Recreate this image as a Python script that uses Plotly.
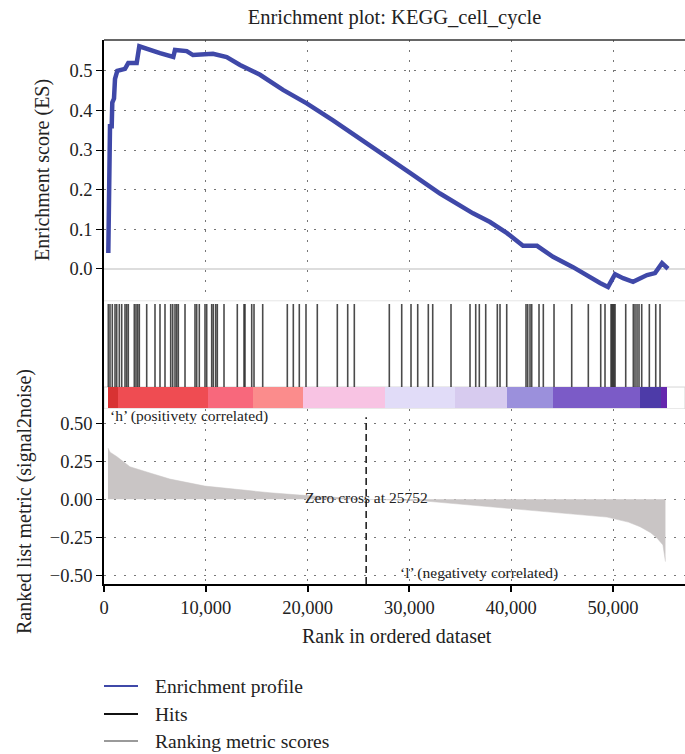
import plotly.graph_objects as go

# ---------------- data ----------------
title_text = "Enrichment plot: KEGG_cell_cycle"

es_rank = [422, 462, 521, 589, 756, 815, 982, 1081, 1306, 2063, 2387, 3212, 3468,
           4194, 5501, 6807, 6974, 8124, 8742, 10707, 12053, 13359, 15324, 17583,
           19911, 22496, 24165, 26130, 30060, 33005, 36247, 37917, 39587, 41158,
           42534, 44105, 46070, 48722, 49508, 50199, 50985, 51967, 53340, 54126,
           54814, 55403]
es_value = [0.04, 0.14, 0.24, 0.36, 0.36, 0.42, 0.43, 0.48, 0.50, 0.505, 0.52, 0.52,
            0.562, 0.555, 0.545, 0.535, 0.553, 0.55, 0.54, 0.543, 0.535, 0.515, 0.49,
            0.452, 0.418, 0.375, 0.345, 0.312, 0.242, 0.19, 0.14, 0.118, 0.09, 0.058,
            0.058, 0.03, 0.004, -0.036, -0.046, -0.014, -0.024, -0.033, -0.016,
            -0.011, 0.014, 0.0]

hit_ranks = [422, 589, 815, 1081, 1248, 1503, 1739, 2063, 2230, 2387, 2976, 3143, 3310,
             3468, 4194, 5010, 5501, 5992, 6552, 6748, 6974, 7141, 7299, 7957, 8939,
             9106, 9361, 9921, 10088, 10579, 10737, 10972, 11129, 11788, 13094, 13752,
             13850, 14509, 14735, 15589, 18006, 18595, 19184, 19842, 20952, 22917,
             23938, 24587, 28025, 29243, 30157, 30815, 31856, 32288, 34086, 35952,
             36512, 36866, 37494, 38634, 38899, 39557, 41453, 41620, 41846, 42013,
             42730, 43152, 44204, 45942, 47573, 48791, 49213, 49803, 49901, 50000,
             50097, 50200, 51247, 51994, 52160, 52357, 52553, 52819, 53566, 54195,
             54617]

metric_rank = [390, 600, 1280, 2550, 4520, 6480, 9920, 13360, 16310, 19250, 22000,
               25752, 31300, 36250, 39590, 44500, 49410, 51500, 52650, 53700, 54320,
               54900, 55150]
metric_value = [0.337, 0.31, 0.28, 0.214, 0.173, 0.133, 0.087, 0.061, 0.043, 0.028,
                0.015, 0.0, -0.01, -0.04, -0.057, -0.09, -0.117, -0.15, -0.18, -0.22,
                -0.255, -0.30, -0.41]

cbar_edges = [393, 1375, 10216, 14636, 19548, 27603, 34479, 39587, 44106, 52652,
              54715, 55304]
cbar_colors = ["#d83232", "#ef4c52", "#f8687c", "#fb8c8c", "#f8c3e3", "#e1dcf8",
               "#d7cbef", "#9b90dc", "#7b5bc7", "#4d3ba8", "#6527ae"]

zero_cross = 25752
x_ticks = [0, 10000, 20000, 30000, 40000, 50000]
es_ticks = [0.0, 0.1, 0.2, 0.3, 0.4, 0.5]
metric_ticks = [-0.5, -0.25, 0.0, 0.25, 0.5]
legend_labels = ["Enrichment profile", "Hits", "Ranking metric scores"]
legend_colors = ["#3f48a8", "#111111", "#9a9a9a"]

# ---------------- styles ----------------
FONT = "Liberation Serif"
TXT = "#222222"
X_RANGE = [0, 57070]
GRID = dict(showgrid=True, gridcolor="#777777", gridwidth=1, griddash="2px,8px")

fig = go.Figure()

# colour bar of ranked list
n = len(cbar_colors)
cscale = []
for i, c in enumerate(cbar_colors):
    cscale.append([i / n, c])
    cscale.append([(i + 1) / n, c])
fig.add_trace(go.Heatmap(x=cbar_edges, y=[0.009, 0.198], z=[list(range(n))],
                         colorscale=cscale, zmin=-0.5, zmax=n - 0.5, showscale=False,
                         xaxis="x2", yaxis="y2", hoverinfo="skip"))

# hits
hx, hy = [], []
for r in hit_ranks:
    hx += [r, r, None]
    hy += [0.198, 0.946, None]
fig.add_trace(go.Scatter(x=hx, y=hy, mode="lines", xaxis="x2", yaxis="y2",
                         line=dict(color="rgba(30,30,30,0.8)", width=1.6),
                         showlegend=False, hoverinfo="skip"))

# enrichment profile
fig.add_trace(go.Scatter(x=es_rank, y=es_value, mode="lines", xaxis="x", yaxis="y",
                         line=dict(color="#3f48a8", width=4.5), showlegend=False))

# ranked metric
fig.add_trace(go.Scatter(x=metric_rank, y=metric_value, mode="lines", fill="tozeroy",
                         fillcolor="#c9c5c5", line=dict(color="#c9c5c5", width=0.5),
                         xaxis="x3", yaxis="y3", showlegend=False))

tickfont = dict(family=FONT, size=18.5, color=TXT)

fig.update_layout(
    width=685, height=754,
    margin=dict(l=104, r=0, t=40, b=170),
    plot_bgcolor="white", paper_bgcolor="white",
    showlegend=False,
    font=dict(family=FONT, color=TXT),
    title=dict(text=title_text, x=(104 + 685) / 2 / 685, xanchor="center",
               y=1 - 17 / 754, yanchor="middle", yref="container",
               font=dict(family=FONT, size=20.5, color=TXT)),
    xaxis=dict(anchor="y", domain=[0, 1], range=X_RANGE, tickvals=x_ticks,
               showticklabels=False, ticks="", zeroline=False, showline=False, **GRID),
    yaxis=dict(domain=[0.5257, 1], range=[-0.074, 0.578], tickvals=es_ticks,
               tickformat=".1f", ticks="outside", ticklen=6, tickcolor="black",
               tickwidth=1.3, showline=True, linecolor="black", linewidth=1.5,
               zeroline=True, zerolinecolor="#dddddd", zerolinewidth=1.5,
               tickfont=tickfont, **GRID),
    xaxis2=dict(anchor="y2", domain=[0, 1], range=X_RANGE, showticklabels=False,
                showgrid=False, ticks="", zeroline=False, showline=False),
    yaxis2=dict(domain=[0.3217, 0.5257], range=[0, 1], showticklabels=False,
                ticks="", showgrid=False, zeroline=False, showline=True,
                linecolor="black", linewidth=1.5),
    xaxis3=dict(anchor="y3", domain=[0, 1], range=X_RANGE, tickvals=x_ticks,
                tickformat=",d", ticks="outside", ticklen=6, tickcolor="black",
                tickwidth=1.5, showline=True, linecolor="black", linewidth=1.5,
                zeroline=False, tickfont=tickfont, **GRID),
    yaxis3=dict(domain=[0, 0.3217], range=[-0.557, 0.594], tickvals=metric_ticks,
                tickformat=".2f", ticks="outside", ticklen=6, tickcolor="black",
                tickwidth=1.3, showline=True, linecolor="black", linewidth=1.5,
                zeroline=False, tickfont=tickfont, **GRID),
)

shapes = [
    # top border under the title
    dict(type="line", xref="paper", yref="paper", x0=0, x1=1, y0=1, y1=1,
         line=dict(color="#333333", width=1.5)),
    # hits panel top border
    dict(type="line", xref="x2", yref="y2", x0=X_RANGE[0], x1=X_RANGE[1], y0=0.975,
         y1=0.975, line=dict(color="#e6e6e6", width=1)),
    # colour bar frame
    dict(type="rect", xref="x2", yref="y2", x0=X_RANGE[0], x1=X_RANGE[1], y0=0.0,
         y1=0.198, line=dict(color="#d5d5d5", width=1), layer="below"),
    # zero cross line
    dict(type="line", xref="x3", yref="y3", x0=zero_cross, x1=zero_cross, y0=-0.557,
         y1=0.54, line=dict(color="#222222", width=1.6, dash="7px,4px")),
]

AX_TITLE = dict(family=FONT, size=20, color=TXT)
NOTE = dict(family=FONT, size=15.5, color=TXT)
annotations = [
    dict(text="Enrichment score (ES)", xref="paper", yref="paper", x=(42 - 104) / 581,
         y=(584 - 170) / 544, textangle=-90, showarrow=False, xanchor="center",
         yanchor="middle", font=AX_TITLE),
    dict(text="Ranked list metric (signal2noise)", xref="paper", yref="paper",
         x=(24 - 104) / 581, y=(584 - 502) / 544, textangle=-90, showarrow=False,
         xanchor="center", yanchor="middle", font=AX_TITLE),
    dict(text="Rank in ordered dataset", xref="paper", yref="paper", x=(397 - 104) / 581,
         y=(584 - 636) / 544, showarrow=False, xanchor="center", yanchor="middle",
         font=AX_TITLE),
    dict(text="‘h’ (positivety correlated)", xref="x3", yref="y3", x=390, y=0.548,
         showarrow=False, xanchor="left", yanchor="middle", font=NOTE),
    dict(text="Zero cross at 25752", xref="x3", yref="y3", x=zero_cross, y=0.015,
         showarrow=False, xanchor="center", yanchor="middle", font=NOTE),
    dict(text="‘l’ (negativety correlated)", xref="x3", yref="y3", x=36840, y=-0.485,
         showarrow=False, xanchor="center", yanchor="middle", font=NOTE),
]

# legend (drawn manually)
legend_rows = [686, 714, 741]
for lab, col, py in zip(legend_labels, legend_colors, legend_rows):
    yp = (584 - py) / 544
    shapes.append(dict(type="line", xref="paper", yref="paper", x0=0, x1=34 / 581,
                       y0=yp, y1=yp, line=dict(color=col, width=2.2)))
    annotations.append(dict(text=lab, xref="paper", yref="paper", x=(153 - 104) / 581,
                            y=yp, showarrow=False, xanchor="left", yanchor="middle",
                            font=dict(family=FONT, size=19.5, color=TXT)))

fig.update_layout(shapes=shapes, annotations=annotations)
fig.write_html("out.html")
